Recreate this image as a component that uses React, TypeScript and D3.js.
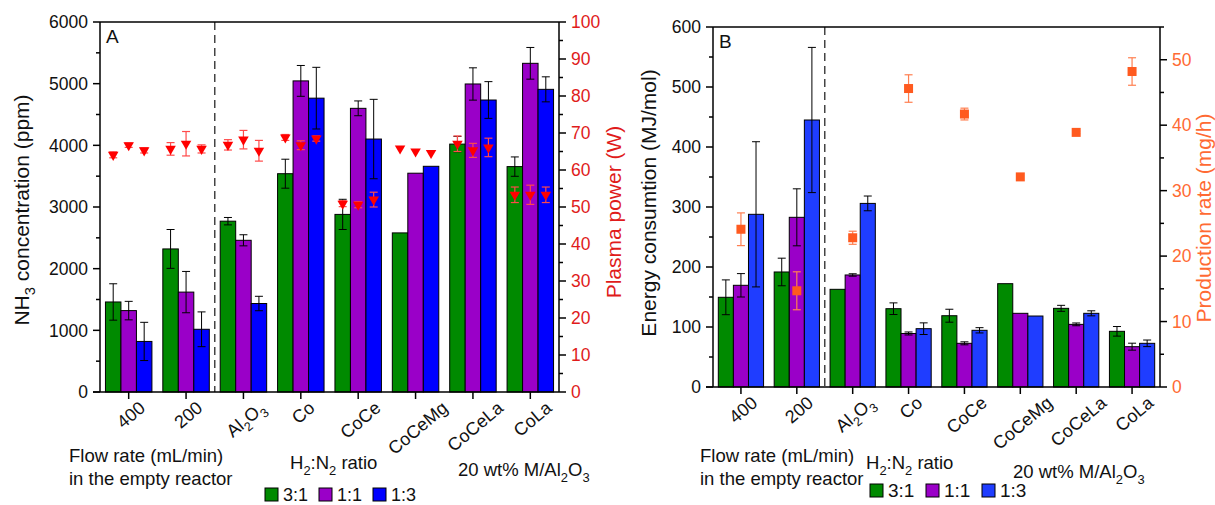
import React from "react";
import * as d3 from "d3";

// Catalyst / flow-rate categories (use _{..} for subscripts)
const categories = ["400", "200", "Al_{2}O_{3}", "Co", "CoCe", "CoCeMg", "CoCeLa", "CoLa"];
const ratioLabels = ["3:1", "1:1", "1:3"];

// Panel A: NH3 concentration (ppm) for H2:N2 = 3:1, 1:1, 1:3
const nh3_31 = [1460, 2320, 2770, 3540, 2880, 2580, 4020, 3655];
const nh3_31Err = [295, 315, 60, 235, 245, 0, 125, 157];
const nh3_11 = [1320, 1620, 2460, 5045, 4600, 3548, 4995, 5330];
const nh3_11Err = [150, 335, 90, 250, 120, 0, 262, 257];
const nh3_13 = [820, 1017, 1435, 4765, 4102, 3660, 4735, 4908];
const nh3_13Err = [310, 282, 117, 500, 644, 0, 298, 203];

// Panel A: plasma power (W)
const power_31 = [64.1, 65.7, 66.8, 68.8, 50.9, 65.8, 67.1, 53.3];
const power_31Err = [0.8, 1.7, 1.4, 0.8, 0.8, 0, 2.1, 2.1];
const power_11 = [66.7, 67.1, 68.2, 66.7, 50.6, 65.0, 65.3, 53.3];
const power_11Err = [0.6, 3.3, 2.5, 1.2, 0.8, 0, 1.9, 2.6];
const power_13 = [65.3, 65.7, 65.2, 68.5, 52.0, 64.6, 66.1, 53.3];
const power_13Err = [0.7, 1.1, 2.8, 0.7, 2.0, 0, 2.5, 2.1];

// Panel B: energy consumption (MJ/mol)
const energy_31 = [149.5, 191.7, 162.8, 130.5, 118.8, 172.2, 131.1, 92.8];
const energy_31Err = [29, 23, 0, 9.7, 10.8, 0, 5, 8];
const energy_11 = [169.5, 282.8, 186.7, 89.2, 72.8, 122.8, 104.4, 67.2];
const energy_11Err = [19.5, 47.5, 2, 2.5, 2.5, 0, 2.3, 5.8];
const energy_13 = [287.8, 445, 306, 97.2, 94.5, 118.3, 122.8, 72.8];
const energy_13Err = [121, 121, 12.3, 9.7, 4.4, 0, 4.2, 5.5];

// Panel B: NH3 production rate (mg/h)
const production = [24.1, 14.7, 22.8, 45.6, 41.7, 32.1, 38.9, 48.2];
const productionErr = [2.5, 2.9, 1.0, 2.1, 0.9, 0, 0.2, 2.1];

const nh3Ticks = [0, 1000, 2000, 3000, 4000, 5000, 6000];
const powerTicks = [0, 10, 20, 30, 40, 50, 60, 70, 80, 90, 100];
const energyTicks = [0, 100, 200, 300, 400, 500, 600];
const productionTicks = [0, 10, 20, 30, 40, 50];

const FONT = "'Liberation Sans', Arial, sans-serif";
const GREEN = "#008a00";
const PURPLE = "#9a00c8";
const TICK_FS = 17.5;
const CAT_FS = 18;
const CAT_ANGLE = 40;
const TITLE_FS = 21;
const NOTE_FS = 18.5;

type Part = { t: string; sub: boolean };
function parseRich(s: string): Part[] {
  const out: Part[] = [];
  const re = /_\{([^}]*)\}/g;
  let last = 0;
  let m: RegExpExecArray | null;
  while ((m = re.exec(s))) {
    if (m.index > last) out.push({ t: s.slice(last, m.index), sub: false });
    out.push({ t: m[1], sub: true });
    last = m.index + m[0].length;
  }
  if (last < s.length) out.push({ t: s.slice(last), sub: false });
  return out;
}

let measureCtx: CanvasRenderingContext2D | null = null;
function richWidth(s: string, size: number): number {
  if (!measureCtx) measureCtx = document.createElement("canvas").getContext("2d");
  if (!measureCtx) return s.length * size * 0.55;
  return parseRich(s).reduce((w, p) => {
    measureCtx!.font = `${p.sub ? size * 0.7 : size}px 'Liberation Sans'`;
    return w + measureCtx!.measureText(p.t).width;
  }, 0);
}

function Rich({ text, size }: { text: string; size: number }) {
  const parts = parseRich(text);
  const shift = size * 0.3;
  let down = false;
  return (
    <>
      {parts.map((p, i) => {
        let dy = 0;
        if (p.sub && !down) { dy = shift; down = true; }
        else if (!p.sub && down) { dy = -shift; down = false; }
        return (
          <tspan key={i} dy={dy || undefined} fontSize={p.sub ? size * 0.7 : size}>
            {p.t}
          </tspan>
        );
      })}
    </>
  );
}

type Series = { values: number[]; errs: number[]; color: string };
type PanelProps = {
  left: number; right: number; top: number; bottom: number;
  yMax: number; yTicks: number[]; yMinorStep: number;
  rMax: number; rTicks: number[]; rMinorStep: number; rColor: string;
  series: Series[];
  letter: string;
  yTitle: string; yTitleX: number; yTitleY: number;
  rTitle: string; rTitleX: number; rTitleY: number;
  overlay: (x: (i: number, k: number | null) => number, r: d3.ScaleLinear<number, number>) => React.ReactNode;
};

function Panel(p: PanelProps) {
  const x = d3.scaleBand<string>().domain(categories).range([p.left, p.right]).padding(0);
  const band = x.bandwidth();
  const barW = band * 0.27;
  const y = d3.scaleLinear().domain([0, p.yMax]).range([p.bottom, p.top]);
  const r = d3.scaleLinear().domain([0, p.rMax]).range([p.bottom, p.top]);
  const center = (i: number) => (x(categories[i]) as number) + band / 2;
  const barX = (i: number, k: number | null) => (k === null ? center(i) : center(i) + (k - 1) * barW);

  const yMinor = d3.range(p.yMinorStep, p.yMax, p.yMinorStep * 2);
  const rMinor = d3.range(p.rMinorStep, p.rMax + 1e-9, p.rMinorStep * 2).filter((v) => v <= p.rMax);
  const dashX = (center(1) + center(2)) / 2;
  const cap = 4;
  const rad = (CAT_ANGLE * Math.PI) / 180;
  const labelTop = p.bottom + 8;

  return (
    <g fontFamily={FONT}>
      {/* bars */}
      {p.series.map((s, k) =>
        s.values.map((v, i) => (
          <rect key={`b${k}-${i}`} x={barX(i, k) - barW / 2} y={y(v)} width={barW} height={p.bottom - y(v)}
            fill={s.color} stroke="#000" strokeWidth={1} />
        ))
      )}
      {/* bar error bars */}
      {p.series.map((s, k) =>
        s.values.map((v, i) => {
          const e = s.errs[i];
          if (!e) return null;
          const cx = barX(i, k);
          return (
            <g key={`e${k}-${i}`} stroke="#000" strokeWidth={1}>
              <line x1={cx} x2={cx} y1={y(v + e)} y2={y(v - e)} />
              <line x1={cx - cap} x2={cx + cap} y1={y(v + e)} y2={y(v + e)} />
              <line x1={cx - cap} x2={cx + cap} y1={y(v - e)} y2={y(v - e)} />
            </g>
          );
        })
      )}
      {/* dashed separator between empty reactor and catalysts */}
      <line x1={dashX} x2={dashX} y1={p.top} y2={p.bottom} stroke="#444" strokeWidth={1.5} strokeDasharray="8,5" />
      {p.overlay(barX, r)}
      {/* frame */}
      <g stroke="#000" strokeWidth={1.5} fill="none">
        <line x1={p.left} x2={p.right} y1={p.top} y2={p.top} />
        <line x1={p.left} x2={p.left} y1={p.top} y2={p.bottom} />
        <line x1={p.right} x2={p.right} y1={p.top} y2={p.bottom} />
        <line x1={p.left - 7} x2={p.right} y1={p.bottom} y2={p.bottom} />
      </g>
      {/* ticks */}
      <g stroke="#000" strokeWidth={1.5}>
        {p.yTicks.map((t) => <line key={`yt${t}`} x1={p.left - 7} x2={p.left} y1={y(t)} y2={y(t)} />)}
        {yMinor.map((t) => <line key={`ym${t}`} x1={p.left - 4} x2={p.left} y1={y(t)} y2={y(t)} />)}
        {p.rTicks.map((t) => <line key={`rt${t}`} x1={p.right} x2={p.right + 7} y1={r(t)} y2={r(t)} />)}
        {rMinor.map((t) => <line key={`rm${t}`} x1={p.right} x2={p.right + 4} y1={r(t)} y2={r(t)} />)}
        {categories.map((c, i) => <line key={`xt${i}`} x1={center(i)} x2={center(i)} y1={p.bottom} y2={p.bottom + 7} />)}
      </g>
      <g fontSize={TICK_FS} fill="#111">
        {p.yTicks.map((t) => (
          <text key={`yl${t}`} x={p.left - 12} y={y(t)} dy="0.36em" textAnchor="end">{t}</text>
        ))}
      </g>
      <g fontSize={TICK_FS} fill={p.rColor}>
        {p.rTicks.map((t) => (
          <text key={`rl${t}`} x={p.right + 12} y={r(t)} dy="0.36em" textAnchor="start">{t}</text>
        ))}
      </g>
      {/* rotated category labels: centred on the tick, top of the box aligned */}
      <g fontSize={CAT_FS} fill="#111">
        {categories.map((c, i) => {
          const L = richWidth(c, CAT_FS);
          const h = CAT_FS * 0.72;
          const cy = labelTop + (L / 2) * Math.sin(rad) + (h / 2) * Math.cos(rad);
          const cx = center(i) + 2;
          // baseline midpoint sits below-right of the visual centre
          const bx = cx + (h / 2) * Math.sin(rad);
          const by = cy + (h / 2) * Math.cos(rad);
          return (
            <text key={`xl${i}`} transform={`translate(${bx},${by}) rotate(${-CAT_ANGLE})`} textAnchor="middle">
              <Rich text={c} size={CAT_FS} />
            </text>
          );
        })}
      </g>
      {/* panel letter */}
      <text x={p.left + 6} y={p.top + 21} fontSize={19} fill="#111">{p.letter}</text>
      {/* axis titles */}
      <text transform={`translate(${p.yTitleX},${p.yTitleY}) rotate(-90)`} textAnchor="middle" fontSize={TITLE_FS} fill="#111">
        <Rich text={p.yTitle} size={TITLE_FS} />
      </text>
      <text transform={`translate(${p.rTitleX},${p.rTitleY}) rotate(-90)`} textAnchor="middle" fontSize={TITLE_FS} fill={p.rColor}>
        <Rich text={p.rTitle} size={TITLE_FS} />
      </text>
    </g>
  );
}

function Legend({ x, y, colors, step, fs }: { x: number; y: number; colors: string[]; step: number; fs: number }) {
  return (
    <g fontFamily={FONT} fontSize={fs} fill="#111">
      {ratioLabels.map((l, k) => (
        <g key={l}>
          <rect x={x + k * step} y={y - 13} width={13} height={13} fill={colors[k]} stroke="#000" strokeWidth={1} />
          <text x={x + k * step + 18} y={y}>{l}</text>
        </g>
      ))}
    </g>
  );
}

function Notes({ flowX, flowY, ratioX, ratioY, mX, mY }: { flowX: number; flowY: number; ratioX: number; ratioY: number; mX: number; mY: number }) {
  return (
    <g fontFamily={FONT} fontSize={NOTE_FS} fill="#111">
      <text x={flowX} y={flowY}>Flow rate (mL/min)</text>
      <text x={flowX} y={flowY + 23}>in the empty reactor</text>
      <text x={ratioX} y={ratioY}><Rich text="H_{2}:N_{2} ratio" size={NOTE_FS} /></text>
      <text x={mX} y={mY}><Rich text="20 wt% M/Al_{2}O_{3}" size={NOTE_FS} /></text>
    </g>
  );
}

export default function App() {
  const powerSeries = [
    { v: power_31, e: power_31Err },
    { v: power_11, e: power_11Err },
    { v: power_13, e: power_13Err },
  ];
  const triangle = d3.symbol().type(d3.symbolTriangle).size(48)();

  return (
    <svg width={1215} height={505} style={{ position: "absolute", left: 0, top: 0, background: "#fff" }}>
      <rect width={1215} height={505} fill="#fff" />
      <Panel
        left={100} right={559} top={22} bottom={392}
        yMax={6000} yTicks={nh3Ticks} yMinorStep={500}
        rMax={100} rTicks={powerTicks} rMinorStep={5} rColor="#e01b1b"
        series={[
          { values: nh3_31, errs: nh3_31Err, color: GREEN },
          { values: nh3_11, errs: nh3_11Err, color: PURPLE },
          { values: nh3_13, errs: nh3_13Err, color: "#0000ff" },
        ]}
        letter="A"
        yTitle="NH_{3} concentration (ppm)" yTitleX={29} yTitleY={210}
        rTitle="Plasma power (W)" rTitleX={621} rTitleY={212}
        overlay={(bx, r) => (
          <g>
            {powerSeries.map((s, k) =>
              s.v.map((v, i) => {
                const cx = bx(i, k);
                const e = s.e[i];
                return (
                  <g key={`p${k}-${i}`}>
                    {e > 0 && (
                      <g stroke="#ff4a4a" strokeWidth={1.2}>
                        <line x1={cx} x2={cx} y1={r(v + e)} y2={r(v - e)} />
                        <line x1={cx - 4} x2={cx + 4} y1={r(v + e)} y2={r(v + e)} />
                        <line x1={cx - 4} x2={cx + 4} y1={r(v - e)} y2={r(v - e)} />
                      </g>
                    )}
                    <path d={triangle as string} transform={`translate(${cx},${r(v)}) rotate(180)`} fill="#ff0000" />
                  </g>
                );
              })
            )}
          </g>
        )}
      />
      <Panel
        left={713} right={1160} top={27} bottom={387}
        yMax={600} yTicks={energyTicks} yMinorStep={50}
        rMax={55} rTicks={productionTicks} rMinorStep={5} rColor="#ff6a33"
        series={[
          { values: energy_31, errs: energy_31Err, color: GREEN },
          { values: energy_11, errs: energy_11Err, color: PURPLE },
          { values: energy_13, errs: energy_13Err, color: "#1f3dff" },
        ]}
        letter="B"
        yTitle="Energy consumtion (MJ/mol)" yTitleX={656} yTitleY={203}
        rTitle="Production rate (mg/h)" rTitleX={1211} rTitleY={218}
        overlay={(bx, r) => (
          <g>
            {production.map((v, i) => {
              const cx = bx(i, null);
              const e = productionErr[i];
              return (
                <g key={`q${i}`}>
                  {e > 0 && (
                    <g stroke="#ff7f50" strokeWidth={1.2}>
                      <line x1={cx} x2={cx} y1={r(v + e)} y2={r(v - e)} />
                      <line x1={cx - 4} x2={cx + 4} y1={r(v + e)} y2={r(v + e)} />
                      <line x1={cx - 4} x2={cx + 4} y1={r(v - e)} y2={r(v - e)} />
                    </g>
                  )}
                  <rect x={cx - 4.5} y={r(v) - 4.5} width={9} height={9} fill="#ff5a1f" />
                </g>
              );
            })}
          </g>
        )}
      />
      <Notes flowX={69} flowY={462} ratioX={290} ratioY={469} mX={458} mY={476} />
      <Notes flowX={700} flowY={462} ratioX={866} ratioY={469} mX={1013} mY={478} />
      <Legend x={265} y={501} colors={[GREEN, PURPLE, "#0000ff"]} step={54} fs={18} />
      <Legend x={870} y={497} colors={[GREEN, PURPLE, "#1f3dff"]} step={56} fs={19} />
    </svg>
  );
}
